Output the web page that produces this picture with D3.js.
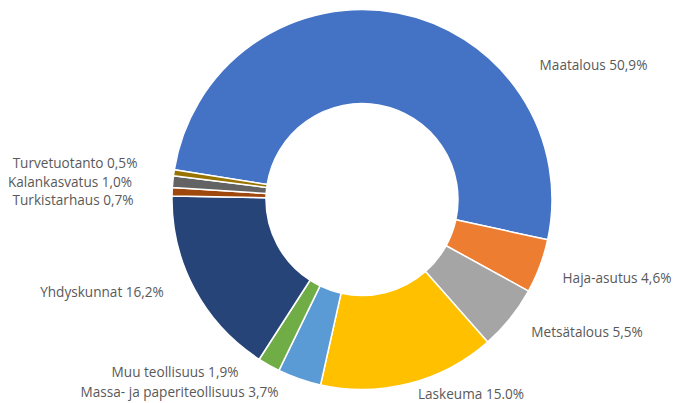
<!DOCTYPE html>
<html>
<head>
<meta charset="utf-8">
<script src="https://cdn.jsdelivr.net/npm/d3@7"></script>
<style>
  html, body { margin: 0; padding: 0; background: #fff; }
  svg { display: block; }
</style>
</head>
<body>
<svg id="chart" width="674" height="403"></svg>
<script>
// ---- data ----
const categories = ["Maatalous", "Haja-asutus", "Metsätalous", "Laskeuma",
  "Massa- ja paperiteollisuus", "Muu teollisuus", "Yhdyskunnat",
  "Turkistarhaus", "Kalankasvatus", "Turvetuotanto"];
const values = [50.9, 4.6, 5.5, 15.0, 3.7, 1.9, 16.2, 0.7, 1.0, 0.5];
const valueLabels = ["50,9%", "4,6%", "5,5%", "15.0%", "3,7%", "1,9%", "16,2%", "0,7%", "1,0%", "0,5%"];
const colors = ["#4472C4", "#ED7D31", "#A5A5A5", "#FFC000", "#5B9BD5",
  "#70AD47", "#264478", "#9E480E", "#636363", "#997300"];

// ---- layout (label centre x / baseline y, offset from the donut centre) ----
const labelOffsets = [[231.5, -129.2], [255, 83.8], [225, 137.2], [109, 199.8],
  [-182.5, 197.8], [-187, 177.8], [-260, 97.3], [-289, 5.5], [-292, -12.8], [-287, -31.8]];

const svg = d3.select("#chart");
const cx = 362, cy = 199.5, outerR = 190, innerR = 96;
const start = -81 * Math.PI / 180;

const pie = d3.pie().sort(null).value(d => d.v)
  .startAngle(start).endAngle(start + 2 * Math.PI);
const arc = d3.arc().innerRadius(innerR).outerRadius(outerR);

const data = categories.map((c, i) => ({ c, v: values[i], lab: valueLabels[i], col: colors[i], off: labelOffsets[i] }));

const g = svg.append("g").attr("transform", `translate(${cx},${cy})`);
g.selectAll("path").data(pie(data)).join("path")
  .attr("d", arc)
  .attr("fill", d => d.data.col)
  .attr("stroke", "#fff")
  .attr("stroke-width", 1.5)
  .attr("stroke-linejoin", "round");

g.selectAll("text").data(data).join("text")
  .attr("x", d => d.off[0])
  .attr("y", d => d.off[1])
  .attr("text-anchor", "middle")
  .attr("font-family", "'Open Sans', Lato, sans-serif")
  .attr("font-size", 13.6)
  .attr("fill", "#595959")
  .text(d => `${d.c} ${d.lab}`);
</script>
</body>
</html>
